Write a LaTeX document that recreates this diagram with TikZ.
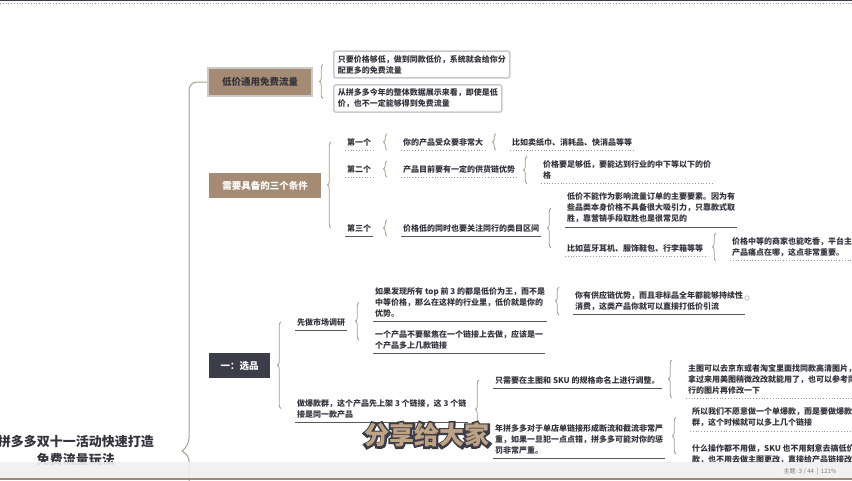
\documentclass[tikz,border=0pt]{standalone}
\usepackage{fontspec}
\setmainfont{Noto Sans CJK SC}
\newfontfamily\capfont{Noto Sans CJK SC}[FakeBold=20]
\usetikzlibrary{decorations.pathreplacing}
\definecolor{MMInk}{HTML}{33333D}
\definecolor{MMBrown}{HTML}{A68B74}
\definecolor{MMDark}{HTML}{3D3C49}
\definecolor{MMLine}{HTML}{A99C8F}
\definecolor{MMRule}{HTML}{5E5650}
\definecolor{MMDot}{HTML}{9C9A98}
\definecolor{MMFrame}{HTML}{C9C9C9}
\definecolor{MMTan}{HTML}{BFA385}

\begin{document}
\begin{tikzpicture}[x=1pt,y=-1pt,
  txt/.style={anchor=west,align=left,inner xsep=2pt,inner ysep=4pt,text=MMInk,font=\fontsize{8}{11}\selectfont\bfseries},
  topic/.style={minimum height=25pt,inner xsep=6pt,font=\fontsize{9.5}{10}\selectfont\bfseries},
  note/.style={txt,draw=MMFrame,line width=1.5pt,rounded corners=2pt,inner xsep=4pt,inner ysep=4pt},
  brc/.style={MMLine,line width=.8pt,decorate,decoration={brace,amplitude=3.5pt}},
  solidline/.style={MMRule,line width=.8pt},
  dotline/.style={MMDot,line width=.8pt,dotted}]
\useasboundingbox (0,0) rectangle (852,480);
\draw[MMDark,line width=1pt] (0,0.5) -- (852,0.5);
\draw[dotline] (0,3.5) -- (852,3.5);

\node[align=center,text=MMInk,font=\fontsize{13}{18}\selectfont\bfseries] (root) at (76,451) {拼多多双十一活动快速打造\\免费流量玩法};
\coordinate (rootjoin) at (182,451);

\node[topic,fill=MMBrown,text=MMInk,draw=MMFrame,line width=2pt,minimum width=104pt,minimum height=28pt] (cheap) at (260,82) {低价通用免费流量};
\node[topic,fill=MMBrown,text=white,minimum width=112pt] (cond) at (265,185.5) {需要具备的三个条件};
\node[topic,fill=MMDark,text=white,minimum width=61pt] (pick) at (239.5,365.5) {一：选品};

\draw[MMLine,line width=1pt,rounded corners=8pt] (cheap.west) -- (189,82) -- (189,446) -- (rootjoin);
\draw[MMLine,line width=1pt,rounded corners=5pt] (rootjoin) -- (189,456) -- (189,482);

\node[note] (free1) at (333,64.5) {只要价格够低，做到同款低价，系统就会给你分\\配更多的免费流量};
\node[note] (free2) at (333,98.5) {从拼多多今年的整体数据展示来看，即使是低\\价，也不一定能够得到免费流量};

\node[txt] (c1) at (345,142) {第一个};
\node[txt] (c2) at (345,169) {第二个};
\node[txt] (c3) at (345,228) {第三个};
\node[txt] (c1a) at (401,142) {你的产品受众要非常大};
\node[txt] (c2a) at (401,169) {产品目前要有一定的供货链优势};
\node[txt] (c3a) at (401,228) {价格低的同时也要关注同行的类目区间};
\node[txt] (c1b) at (510,142) {比如卖纸巾、消耗品、快消品等等};
\node[txt] (c2b) at (541,170) {价格要足够低，要能达到行业的中下等以下的价\\格};
\node[txt] (c3b) at (565,208) {低价不能作为影响流量订单的主要要素。因为有\\些品类本身价格不具备很大吸引力，只靠款式取\\胜，靠营销手段取胜也是很常见的};
\node[txt] (c3c) at (565,248) {比如蓝牙耳机、服饰鞋包、行李箱等等};
\node[txt] (c3d) at (730,247) {价格中等的商家也能吃香，平台主打\\产品痛点在哪，这点非常重要。};

\node[txt] (s1) at (295,322) {先做市场调研};
\node[txt] (s1a) at (373,302.5) {如果发现所有 top 前 3 的都是低价为王，而不是\\中等价格，那么在这样的行业里，低价就是你的\\优势。};
\node[txt] (s1b) at (373,340) {一个产品不要聚焦在一个链接上去做，应该是一\\个产品多上几款链接};
\node[txt] (s1c) at (573,301) {你有供应链优势，而且非标品全年都能够持续性\\消费，这类产品你就可以直接打低价引流};
\node[circle,draw=MMDot,inner sep=1.6pt] (mark) at (747,298) {};
\node[txt] (s2) at (295,408.5) {做爆款群，这个产品先上架 3 个链接，这 3 个链\\接是同一款产品};
\node[txt] (s2a) at (493,380) {只需要在主图和 SKU 的规格命名上进行调整。};
\node[txt] (s2b) at (493,439) {年拼多多对于单店单链接形成断流和截流非常严\\重，如果一旦犯一点点错，拼多多可能对你的惩\\罚非常严重。};
\node[txt] (s2c) at (686,379) {主图可以去京东或者淘宝里面找同款高清图片，\\拿过来用美图稍微改改就能用了，也可以参考同\\行的图片再修改一下};
\node[txt] (s2d) at (690,417.5) {所以我们不愿意做一个单爆款，而是要做爆款\\群，这个时候就可以多上几个链接};
\node[txt] (s2e) at (690,454) {什么操作都不用做，SKU 也不用刻意去搞低价\\款，也不用去做主图更改，直接给产品链接改下};

\foreach \n in {c3,c3a,c3b,s1,s1a,s1b,s1c,s2,s2a,s2b}
  \draw[solidline] (\n.south west) -- (\n.south east);
\foreach \n in {c1,c2,c1a,c2a,c1b,c2b,c3c,c3d,s2c,s2d}
  \draw[dotline] (\n.south west) -- (\n.south east);

\draw[brc] ([xshift=-10pt]free2.west) -- ([xshift=-10pt]free1.west);
\foreach \a/\b in {c1/c3,c3b/c3c,s1/s2,s1a/s1b,s2a/s2b,s2d/s2e}
  \draw[brc] ([xshift=-14pt]\b.west) -- ([xshift=-14pt]\a.west);
\foreach \n in {c1a,c2a,c3a,c1b,c2b,c3d,s1c,s2c}
  \draw[brc] ([xshift=-14pt]\n.south west) -- ([xshift=-14pt]\n.north west);

\fill[white!88!gray,opacity=.9] (0,462) rectangle (852,478);
\fill[MMBrown!80!gray] (0,478) rectangle (852,480);
\node[font=\fontsize{6}{6}\selectfont,text=MMRule!80] (status) at (810,472) {主题: 3 / 44 \ | \ 121\%};

\node[font=\capfont\fontsize{25}{25}\selectfont,text=MMDark] (captionedge) at (427,435) {分享给大家};
\node[font=\fontsize{25}{25}\selectfont\bfseries,text=MMTan] (caption) at (427,435) {分享给大家};
\end{tikzpicture}
\end{document}
